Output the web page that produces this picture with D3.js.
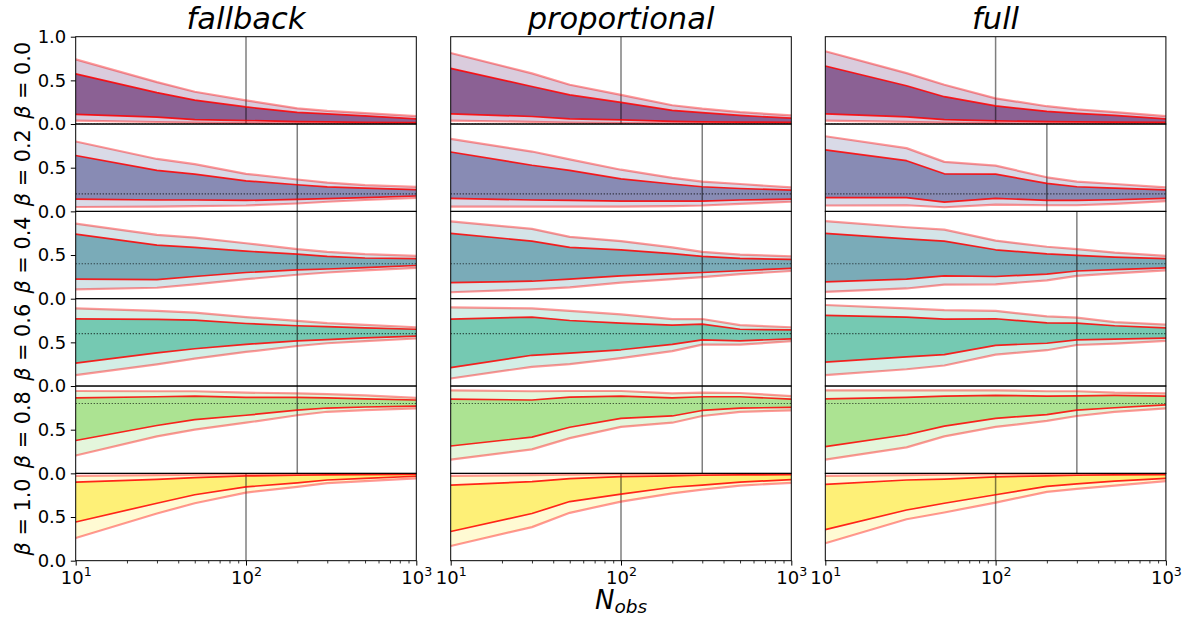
<!DOCTYPE html>
<html><head><meta charset="utf-8">
<script src="https://cdn.jsdelivr.net/npm/d3@7"></script>
<style>
html,body{margin:0;padding:0;background:#fff;}
svg text{font-family:"DejaVu Sans",sans-serif;}
</style></head>
<body><svg id="chart" width="1183" height="617"></svg>
<script>
// ---------- data ----------
const nObs = [10, 30, 50, 100, 200, 300, 500, 1000];
const betas = [0.0, 0.2, 0.4, 0.6, 0.8, 1.0];
const methods = ["fallback", "proportional", "full"];
const xTickValues = [10, 100, 1000];
const xTickExponents = ["1", "2", "3"];
const yTickValuesTop = [0, 0.5, 1.0];
const yTickValuesRest = [0, 0.5];
const yTickLabelsTop = ["0.0", "0.5", "1.0"];
const yTickLabelsRest = ["0.0", "0.5"];

// vertical marker (N) per row
const fallbackMarker = [100, 200, 200, 200, 200, 100];
const proportionalMarker = [100, 300, 300, 300, 300, 100];
const fullMarker = [100, 200, 300, 300, 300, 100];

// quantile bands: rows = beta, columns = nObs
const fallbackQ95 = [
  [0.74, 0.48, 0.37, 0.27, 0.18, 0.15, 0.125, 0.09],
  [0.80, 0.60, 0.54, 0.43, 0.365, 0.33, 0.30, 0.28],
  [0.86, 0.73, 0.70, 0.635, 0.567, 0.536, 0.51, 0.49],
  [0.89, 0.86, 0.84, 0.79, 0.745, 0.72, 0.70, 0.673],
  [0.943, 0.94, 0.94, 0.924, 0.916, 0.908, 0.892, 0.865],
  [0.97, 0.98, 0.985, 0.99, 0.995, 0.997, 0.998, 0.999]];
const fallbackQ75 = [
  [0.575, 0.36, 0.274, 0.196, 0.133, 0.117, 0.094, 0.06],
  [0.64, 0.47, 0.427, 0.35, 0.305, 0.28, 0.266, 0.25],
  [0.74, 0.614, 0.587, 0.544, 0.51, 0.485, 0.466, 0.458],
  [0.77, 0.763, 0.755, 0.716, 0.69, 0.68, 0.665, 0.65],
  [0.865, 0.877, 0.885, 0.869, 0.869, 0.865, 0.853, 0.84],
  [0.90, 0.93, 0.95, 0.97, 0.978, 0.982, 0.985, 0.988]];
const fallbackQ25 = [
  [0.11, 0.078, 0.05, 0.04, 0.027, 0.024, 0.02, 0.015],
  [0.14, 0.13, 0.13, 0.125, 0.137, 0.145, 0.157, 0.176],
  [0.223, 0.219, 0.254, 0.30, 0.33, 0.34, 0.356, 0.38],
  [0.262, 0.38, 0.427, 0.477, 0.517, 0.532, 0.552, 0.571],
  [0.376, 0.548, 0.615, 0.665, 0.724, 0.748, 0.76, 0.77],
  [0.443, 0.658, 0.755, 0.845, 0.892, 0.924, 0.943, 0.967]];
const fallbackQ05 = [
  [0.04, 0.023, 0.015, 0.01, 0.007, 0.005, 0.004, 0.003],
  [0.05, 0.055, 0.06, 0.067, 0.09, 0.11, 0.13, 0.153],
  [0.106, 0.125, 0.164, 0.223, 0.274, 0.30, 0.325, 0.352],
  [0.125, 0.247, 0.313, 0.39, 0.458, 0.49, 0.513, 0.544],
  [0.204, 0.423, 0.50, 0.58, 0.665, 0.705, 0.724, 0.744],
  [0.26, 0.54, 0.658, 0.78, 0.845, 0.888, 0.912, 0.943]];

const proportionalQ95 = [
  [0.814, 0.58, 0.45, 0.333, 0.215, 0.176, 0.137, 0.098],
  [0.83, 0.685, 0.595, 0.477, 0.384, 0.34, 0.313, 0.274],
  [0.885, 0.80, 0.708, 0.66, 0.587, 0.536, 0.505, 0.485],
  [0.90, 0.888, 0.86, 0.82, 0.767, 0.767, 0.697, 0.673],
  [0.951, 0.94, 0.943, 0.943, 0.916, 0.924, 0.92, 0.885],
  [0.97, 0.98, 0.985, 0.99, 0.995, 0.997, 0.998, 0.999]];
const proportionalQ75 = [
  [0.638, 0.43, 0.333, 0.247, 0.157, 0.13, 0.098, 0.067],
  [0.68, 0.528, 0.47, 0.372, 0.313, 0.282, 0.262, 0.243],
  [0.747, 0.66, 0.587, 0.56, 0.517, 0.485, 0.462, 0.45],
  [0.767, 0.79, 0.75, 0.72, 0.697, 0.708, 0.65, 0.642],
  [0.85, 0.84, 0.873, 0.885, 0.865, 0.877, 0.877, 0.85],
  [0.865, 0.906, 0.94, 0.963, 0.972, 0.978, 0.982, 0.985]];
const proportionalQ25 = [
  [0.117, 0.086, 0.06, 0.047, 0.03, 0.025, 0.022, 0.02],
  [0.149, 0.13, 0.125, 0.117, 0.117, 0.117, 0.13, 0.14],
  [0.184, 0.2, 0.223, 0.262, 0.286, 0.30, 0.32, 0.348],
  [0.211, 0.352, 0.376, 0.415, 0.477, 0.528, 0.517, 0.54],
  [0.313, 0.415, 0.528, 0.63, 0.657, 0.72, 0.748, 0.755],
  [0.334, 0.54, 0.677, 0.763, 0.841, 0.865, 0.90, 0.928]];
const proportionalQ05 = [
  [0.04, 0.025, 0.016, 0.012, 0.008, 0.006, 0.005, 0.004],
  [0.055, 0.055, 0.055, 0.055, 0.06, 0.067, 0.086, 0.11],
  [0.074, 0.106, 0.13, 0.184, 0.223, 0.247, 0.282, 0.317],
  [0.086, 0.22, 0.25, 0.32, 0.40, 0.474, 0.474, 0.513],
  [0.157, 0.274, 0.403, 0.532, 0.58, 0.657, 0.705, 0.72],
  [0.168, 0.384, 0.548, 0.677, 0.77, 0.814, 0.86, 0.892]];

const fullQ95 = [
  [0.834, 0.583, 0.45, 0.294, 0.204, 0.168, 0.137, 0.09],
  [0.86, 0.724, 0.567, 0.524, 0.39, 0.34, 0.313, 0.274],
  [0.888, 0.818, 0.79, 0.665, 0.595, 0.567, 0.528, 0.49],
  [0.928, 0.888, 0.869, 0.86, 0.798, 0.783, 0.732, 0.704],
  [0.951, 0.951, 0.951, 0.951, 0.94, 0.94, 0.924, 0.916],
  [0.97, 0.98, 0.985, 0.99, 0.995, 0.997, 0.998, 0.999]];
const fullQ75 = [
  [0.665, 0.438, 0.313, 0.207, 0.145, 0.121, 0.098, 0.06],
  [0.704, 0.58, 0.43, 0.427, 0.32, 0.282, 0.266, 0.247],
  [0.747, 0.685, 0.66, 0.56, 0.513, 0.497, 0.477, 0.458],
  [0.81, 0.79, 0.767, 0.77, 0.724, 0.72, 0.69, 0.665],
  [0.853, 0.869, 0.885, 0.892, 0.885, 0.888, 0.892, 0.885],
  [0.873, 0.924, 0.935, 0.96, 0.972, 0.978, 0.982, 0.985]];
const fullQ25 = [
  [0.117, 0.082, 0.05, 0.035, 0.028, 0.024, 0.021, 0.018],
  [0.157, 0.157, 0.106, 0.149, 0.125, 0.125, 0.133, 0.149],
  [0.192, 0.223, 0.262, 0.254, 0.282, 0.317, 0.333, 0.352],
  [0.274, 0.333, 0.36, 0.466, 0.49, 0.528, 0.536, 0.548],
  [0.305, 0.442, 0.54, 0.63, 0.673, 0.724, 0.751, 0.783],
  [0.356, 0.58, 0.658, 0.755, 0.85, 0.88, 0.912, 0.943]];
const fullQ05 = [
  [0.04, 0.025, 0.015, 0.01, 0.007, 0.005, 0.004, 0.003],
  [0.067, 0.07, 0.047, 0.078, 0.07, 0.07, 0.086, 0.117],
  [0.078, 0.117, 0.16, 0.164, 0.21, 0.262, 0.29, 0.325],
  [0.125, 0.192, 0.235, 0.36, 0.41, 0.47, 0.485, 0.517],
  [0.157, 0.297, 0.423, 0.532, 0.60, 0.657, 0.705, 0.744],
  [0.20, 0.474, 0.552, 0.665, 0.787, 0.822, 0.86, 0.912]];

// ---------- assemble ----------
const bands = {
  fallback: {q95: fallbackQ95, q75: fallbackQ75, q25: fallbackQ25, q05: fallbackQ05, marker: fallbackMarker},
  proportional: {q95: proportionalQ95, q75: proportionalQ75, q25: proportionalQ25, q05: proportionalQ05, marker: proportionalMarker},
  full: {q95: fullQ95, q75: fullQ75, q25: fullQ25, q05: fullQ05, marker: fullMarker}
};

const svg = d3.select("#chart");
const colX = [75.7, 450.7, 825.3];
const panelW = 340.6;
const top0 = 36.7;
const rowH = 87.33;
const tickFont = 18;

const x = d3.scaleLog().domain([10, 1000]).range([0, panelW]);
const y = d3.scaleLinear().domain([0, 1]).range([rowH, 0]);

const defs = svg.append("defs");
defs.append("clipPath").attr("id", "pclip").append("rect")
  .attr("x", 0).attr("y", 0).attr("width", panelW).attr("height", rowH);

methods.forEach((m, ci) => {
  const b = bands[m];
  // column title
  svg.append("text")
    .attr("x", colX[ci] + panelW / 2).attr("y", 28.5)
    .attr("text-anchor", "middle")
    .attr("font-size", 30.5).attr("font-style", "italic")
    .text(m);

  betas.forEach((beta, ri) => {
    const g = svg.append("g").attr("transform", `translate(${colX[ci]},${top0 + ri * rowH})`);
    const inner = g.append("g").attr("clip-path", "url(#pclip)");
    const col = d3.interpolateViridis(beta);
    const pts = nObs.map((n, i) => ({n, q05: b.q05[ri][i], q25: b.q25[ri][i], q75: b.q75[ri][i], q95: b.q95[ri][i]}));

    const areaOuter = d3.area().x(d => x(d.n)).y0(d => y(d.q05)).y1(d => y(d.q95));
    const areaInner = d3.area().x(d => x(d.n)).y0(d => y(d.q25)).y1(d => y(d.q75));
    inner.append("path").datum(pts).attr("d", areaOuter).attr("fill", col).attr("fill-opacity", 0.2);
    inner.append("path").datum(pts).attr("d", areaInner).attr("fill", col).attr("fill-opacity", 0.53);

    // marker line
    inner.append("line")
      .attr("x1", x(b.marker[ri])).attr("x2", x(b.marker[ri]))
      .attr("y1", 0).attr("y2", rowH)
      .attr("stroke", "#000").attr("stroke-opacity", 0.5).attr("stroke-width", 1.5);
    // true beta dotted line
    inner.append("line")
      .attr("x1", 0).attr("x2", panelW)
      .attr("y1", y(beta)).attr("y2", y(beta))
      .attr("stroke", "#000").attr("stroke-opacity", 0.75).attr("stroke-width", 1.1)
      .attr("stroke-dasharray", "1.1,1.9");

    ["q05", "q95"].forEach(k => {
      inner.append("path").datum(pts)
        .attr("d", d3.line().x(d => x(d.n)).y(d => y(d[k])))
        .attr("fill", "none").attr("stroke", "#ff0000").attr("stroke-opacity", 0.4)
        .attr("stroke-width", 2.2).attr("stroke-linejoin", "round");
    });
    ["q25", "q75"].forEach(k => {
      inner.append("path").datum(pts)
        .attr("d", d3.line().x(d => x(d.n)).y(d => y(d[k])))
        .attr("fill", "none").attr("stroke", "#ff0000").attr("stroke-opacity", 0.85)
        .attr("stroke-width", 1.7).attr("stroke-linejoin", "round");
    });

    // frame
    g.append("rect").attr("x", 0).attr("y", 0).attr("width", panelW).attr("height", rowH)
      .attr("fill", "none").attr("stroke", "#000").attr("stroke-width", 1);

    // y axis (left column)
    if (ci === 0) {
      const vals = ri === 0 ? yTickValuesTop : yTickValuesRest;
      const labs = ri === 0 ? yTickLabelsTop : yTickLabelsRest;
      const ax = g.append("g").call(
        d3.axisLeft(y).tickValues(vals).tickSize(4.9).tickPadding(4.5)
          .tickFormat((d, i) => labs[i]));
      ax.select(".domain").remove();
      ax.selectAll(".tick line").attr("stroke", "#000");
      ax.selectAll(".tick text").attr("font-size", tickFont).attr("fill", "#000")
        .style("font-family", "'DejaVu Sans', sans-serif");
      // row label
      const lbl = svg.append("text")
        .attr("transform", `translate(30,${top0 + ri * rowH + rowH / 2}) rotate(-90)`)
        .attr("text-anchor", "middle").attr("font-size", 20.8);
      lbl.append("tspan").attr("font-style", "italic").text("β");
      lbl.append("tspan").text(" = " + beta.toFixed(1));
    }

    // x axis (bottom row)
    if (ri === betas.length - 1) {
      const minor = [];
      [10, 100].forEach(dec => { for (let k = 2; k <= 9; k++) minor.push(dec * k); });
      const axm = g.append("g").attr("transform", `translate(0,${rowH})`)
        .call(d3.axisBottom(x).tickValues(minor).tickSize(2.8).tickFormat(""));
      axm.select(".domain").remove();
      axm.selectAll(".tick line").attr("stroke", "#000").attr("stroke-width", 0.8);
      const ax = g.append("g").attr("transform", `translate(0,${rowH})`)
        .call(d3.axisBottom(x).tickValues(xTickValues).tickSize(4.9).tickPadding(4.5).tickFormat(""));
      ax.select(".domain").remove();
      ax.selectAll(".tick line").attr("stroke", "#000");
      ax.selectAll(".tick").each(function(d, i) {
        const t = d3.select(this).append("text")
          .attr("y", 23).attr("text-anchor", "middle").attr("fill", "#000")
          .attr("font-size", tickFont).style("font-family", "'DejaVu Sans', sans-serif");
        t.append("tspan").text("10");
        t.append("tspan").attr("dy", -7.5).attr("font-size", 12.6).text(xTickExponents[i]);
      });
    }
  });
});

// x label
const xl = svg.append("text").attr("x", colX[1] + panelW / 2).attr("y", 609)
  .attr("text-anchor", "middle").attr("font-size", 26);
xl.append("tspan").attr("font-style", "italic").text("N");
xl.append("tspan").attr("font-style", "italic").attr("font-size", 18.5).attr("dy", 4).text("obs");
</script></body></html>
